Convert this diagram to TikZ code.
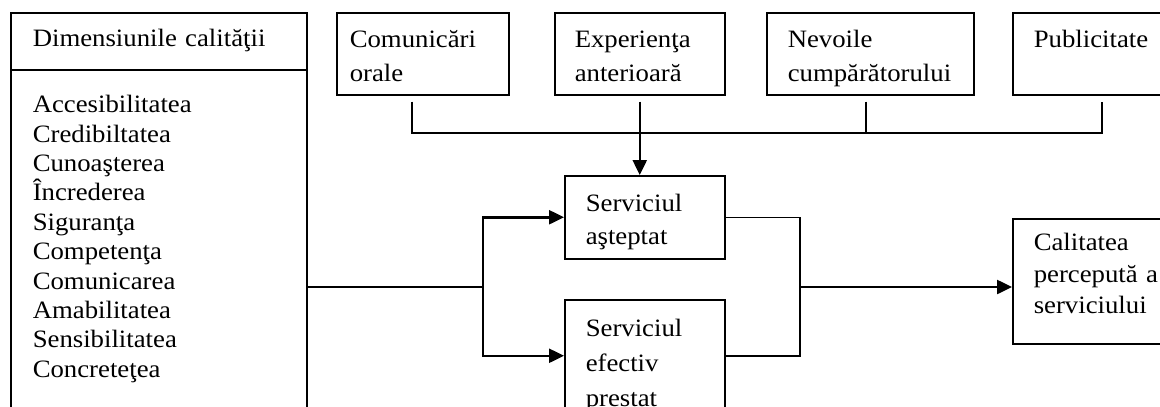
\documentclass[tikz,border=0pt]{standalone}
\usepackage{fontspec}
\setmainfont{Liberation Serif}[FakeStretch=1.07]
\usetikzlibrary{arrows.meta,calc}
\colorlet{box edge}{black!100}
\tikzset{
  box/.style={draw=box edge, line width=1.5pt, anchor=north west, inner ysep=0pt, align=left},
  wire/.style={draw=box edge, line width=1.5pt},
  flow/.style={draw=box edge, line width=2.5pt, -{Triangle[length=15pt,width=14pt]}}
}

\begin{document}
\begin{tikzpicture}[x=1pt,y=1pt,font=\fontsize{25}{33.5}\selectfont]
  \useasboundingbox (0,0) rectangle (1160,-407);

  \node[box, inner xsep=22pt, text width=252pt, text height=34pt, text depth=23pt] (dims) at (10,-12) {Dimensiunile calităţii};
  \node[box, inner xsep=22pt, text width=252pt, text height=43pt, text depth=317pt,
        font=\fontsize{25}{29.4}\selectfont] (list) at (10,-69)
    {Accesibilitatea\\Credibiltatea\\Cunoaşterea\\Încrederea\\Siguranţa\\Competenţa\\Comunicarea\\Amabilitatea\\Sensibilitatea\\Concreteţea};

  \node[box, inner xsep=13pt, text width=146pt, text height=35pt, text depth=47pt] (oral) at (336,-12) {Comunicări\\orale};
  \node[box, inner xsep=20pt, text width=130pt, text height=35pt, text depth=47pt] (exper) at (554,-12) {Experienţa\\anterioară};
  \node[box, inner xsep=21pt, text width=165pt, text height=35pt, text depth=47pt] (needs) at (766,-12) {Nevoile\\cumpărătorului};
  \node[box, inner xsep=21pt, text width=150pt, text height=35pt, text depth=47pt] (advert) at (1012,-12) {Publicitate};

  \node[box, inner xsep=21pt, text width=118pt, text height=36pt, text depth=47pt,
        font=\fontsize{25}{33}\selectfont] (expect) at (564,-175) {Serviciul\\aşteptat};
  \node[box, inner xsep=21pt, text width=118pt, text height=37pt, text depth=75pt,
        font=\fontsize{25}{35}\selectfont] (actual) at (564,-299) {Serviciul\\efectiv\\prestat};
  \node[box, inner xsep=21pt, text width=140pt, text height=32pt, text depth=93pt,
        font=\fontsize{25}{31.5}\selectfont] (perceived) at (1012,-218) {Calitatea\\percepută a\\serviciului};

  % bus under the top boxes
  \coordinate (busL) at (412,-133);
  \coordinate (busN) at (866,-133);
  \coordinate (busR) at (1102,-133);
  \coordinate (split) at (483,-287);
  \coordinate (merge) at (800,-287);

  \draw[wire] ($(oral.south -| busL)+(0,-6)$) |- (busR) -- ($(advert.south -| busR)+(0,-6)$);
  \draw[wire] ($(needs.south -| busN)+(0,-6)$) -- (busN);
  \draw[flow] ($(exper.south)+(0,-6)$) -- (exper.south |- expect.north);

  % dimensions to both services
  \draw[wire] (list.east |- split) -- (split);
  \draw[flow] (split) |- (expect.west);
  \draw[flow] (split) |- (actual.west);

  % both services to perceived quality
  \draw[wire] (expect.east) -| (merge) |- (actual.east);
  \draw[flow] (merge) -- (perceived.west |- merge);
\end{tikzpicture}
\end{document}
